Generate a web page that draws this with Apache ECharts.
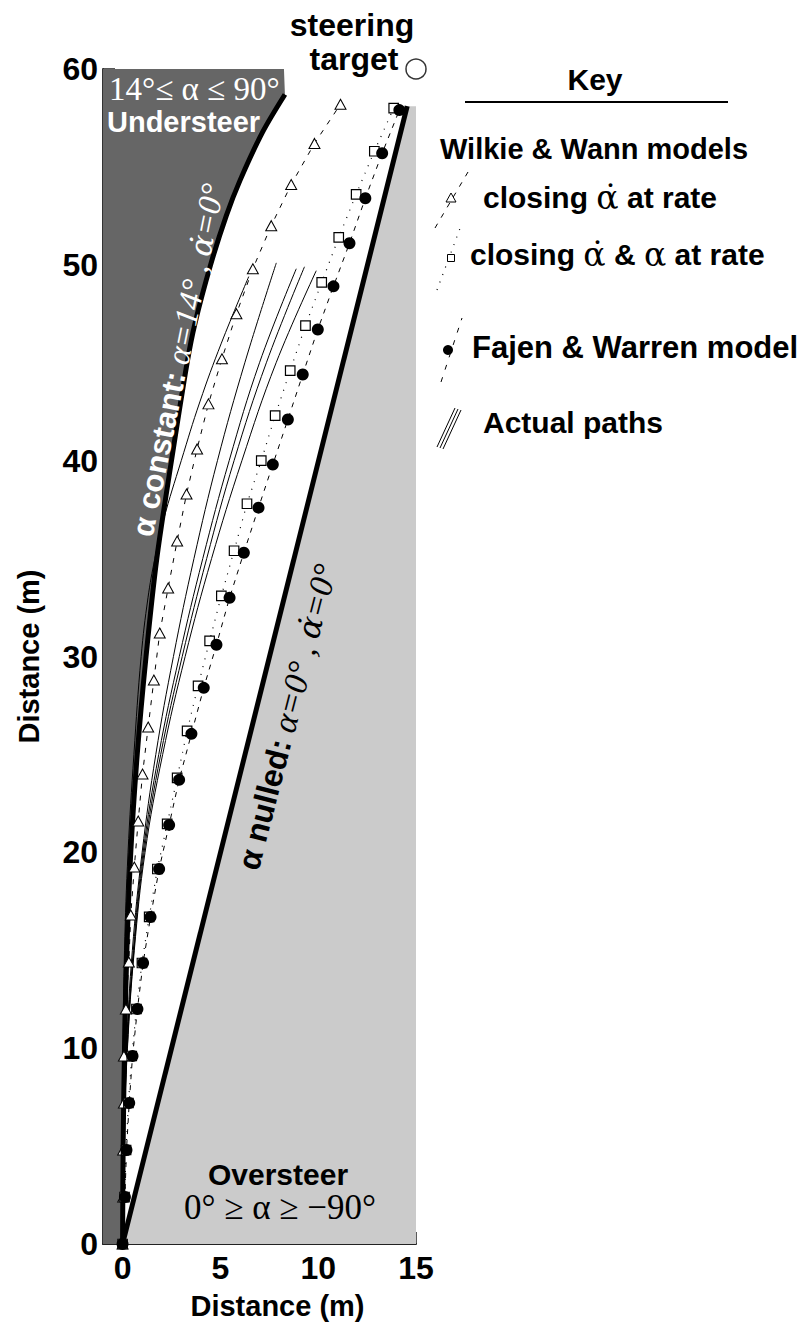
<!DOCTYPE html>
<html>
<head>
<meta charset="utf-8">
<script src="https://cdn.jsdelivr.net/npm/echarts@6.0.0/dist/echarts.min.js"></script>
<style>html,body{margin:0;padding:0;background:#fff}#c{width:806px;height:1333px}</style>
</head>
<body>
<div id="c"></div>
<script>
// ---- data (metres) ----
const xTicks = [0, 5, 10, 15];
const yTicks = [0, 10, 20, 30, 40, 50, 60];

// alpha constant boundary (thick curve)
const constY = [0, 5, 10, 15, 20, 25, 30, 35, 40, 45, 47, 50, 52.5, 54.3, 56.8, 58.7];
const constX = [0, 0.03, 0.1, 0.22, 0.42, 0.75, 1.2, 1.75, 2.5, 3.3, 3.7, 4.5, 5.3, 6.0, 7.17, 8.3];

// alpha nulled boundary (straight thick line)
const nullY = [0, 58.1];
const nullX = [0, 14.55];

// Wilkie & Wann: closing alpha-dot at rate (triangles)
const triY = [0, 2.4, 4.8, 7.2, 9.6, 12.0, 14.4, 16.8, 19.25, 21.6, 24.0, 26.4, 28.8, 31.2, 33.5, 35.9, 38.3, 40.6, 42.9, 45.2, 47.5, 49.8, 52.0, 54.1, 56.2, 58.2];
const triX = [0, 0.03, 0.03, 0.07, 0.07, 0.17, 0.32, 0.42, 0.6, 0.8, 1.02, 1.31, 1.6, 1.9, 2.33, 2.79, 3.27, 3.81, 4.39, 5.08, 5.82, 6.66, 7.6, 8.62, 9.81, 11.14];

// Wilkie & Wann: closing alpha-dot & alpha at rate (squares)
const sqY = [0, 2.4, 4.8, 7.2, 9.6, 12.0, 14.35, 16.7, 19.15, 21.45, 23.8, 26.2, 28.5, 30.8, 33.1, 35.4, 37.8, 40.0, 42.3, 44.6, 46.9, 49.1, 51.4, 53.6, 55.8, 58.0];
const sqX = [0, 0.1, 0.18, 0.3, 0.47, 0.71, 0.99, 1.36, 1.78, 2.28, 2.79, 3.3, 3.86, 4.45, 5.05, 5.7, 6.36, 7.09, 7.8, 8.57, 9.35, 10.18, 11.05, 11.94, 12.87, 13.86];

// Fajen & Warren model (filled circles)
const fwY = [0, 2.4, 4.8, 7.2, 9.6, 12.0, 14.35, 16.7, 19.15, 21.4, 23.7, 26.05, 28.4, 30.6, 33.0, 35.3, 37.6, 39.8, 42.1, 44.4, 46.7, 48.9, 51.1, 53.4, 55.7, 57.9];
const fwX = [0, 0.12, 0.2, 0.34, 0.51, 0.76, 1.05, 1.43, 1.87, 2.38, 2.89, 3.52, 4.15, 4.8, 5.47, 6.2, 6.95, 7.68, 8.45, 9.21, 9.98, 10.78, 11.6, 12.41, 13.27, 14.15];

// Actual paths
const path1Y = [0, 5, 10, 15, 20, 25, 30, 33, 35, 37, 40, 43, 46, 49.4];
const path1X = [0, 0, 0.02, 0.1, 0.28, 0.58, 0.95, 1.3, 1.65, 2.1, 3.0, 3.95, 5.05, 6.45];
const path2Y = [0, 5, 10, 15, 20, 25, 30, 35, 40, 45, 50.1];
const path2X = [0, 0.05, 0.2, 0.5, 1.0, 1.7, 2.6, 3.65, 4.85, 6.25, 7.86];
const path3Y = [0, 5, 10, 15, 20, 25, 30, 35, 40, 45, 49.8];
const path3X = [0, 0.05, 0.22, 0.55, 1.05, 1.85, 2.9, 4.1, 5.45, 7.0, 8.88];
const path4Y = [0, 5, 10, 15, 20, 25, 30, 35, 40, 45, 49.9];
const path4X = [0, 0.05, 0.24, 0.58, 1.1, 1.95, 3.05, 4.3, 5.7, 7.35, 9.3];
const path5Y = [0, 5, 10, 15, 20, 25, 30, 35, 40, 45, 49.7];
const path5X = [0, 0.06, 0.25, 0.6, 1.15, 2.05, 3.2, 4.55, 6.1, 7.85, 9.9];

// steering target
const targetXY = [15, 60];

// axis extents
const xMin = -1, xMax = 15, yMin = 0, yMax = 60;

// ---- build ----
const zip = (xs, ys) => xs.map((x, i) => [x, ys[i]]);
const constPts = zip(constX, constY);
const nullPts = zip(nullX, nullY);
const darkPoly = [[xMin, 0]].concat(constPts, [[constX[constX.length - 1] - 0.05, yMax], [xMin, yMax]]);
const lightPoly = nullPts.concat([[xMax, nullY[1]], [xMax, 0]]);
const paths = [[path1X, path1Y], [path2X, path2Y], [path3X, path3Y], [path4X, path4Y], [path5X, path5Y]];

function polySeries(poly, color, z) {
  return {
    type: 'custom', silent: true, z: z, clip: true,
    data: [0],
    renderItem: (params, api) => ({
      type: 'polygon',
      shape: { points: poly.map(p => api.coord(p)) },
      style: { fill: color }
    })
  };
}

const SANS = 'Liberation Sans, Arial, Helvetica, sans-serif';
const SERIF = 'Liberation Serif, Times New Roman, serif';
const DJS = 'DejaVu Serif, serif';

const series = [
  polySeries(lightPoly, '#cbcbcb', 1),
  polySeries(darkPoly, '#666666', 2),
  { type: 'line', data: nullPts, symbol: 'none', z: 5, lineStyle: { color: '#000', width: 5 } },
  { type: 'line', data: constPts, symbol: 'none', smooth: 0.3, z: 5, lineStyle: { color: '#000', width: 5 } }
];
paths.forEach(p => series.push({
  type: 'line', data: zip(p[0], p[1]), symbol: 'none', smooth: 0.4, z: 6,
  lineStyle: { color: '#000', width: 1 }
}));
series.push(
  { type: 'line', data: zip(triX, triY), symbol: 'triangle', symbolSize: [11, 10], z: 8,
    lineStyle: { color: '#000', width: 1, type: [5, 7] },
    itemStyle: { color: '#fff', borderColor: '#000', borderWidth: 1 } },
  { type: 'line', data: zip(sqX, sqY), symbol: 'rect', symbolSize: 9.5, z: 8,
    lineStyle: { color: '#000', width: 1.2, type: [1, 7] },
    itemStyle: { color: '#fff', borderColor: '#000', borderWidth: 1.2 } },
  { type: 'line', data: zip(fwX, fwY), symbol: 'circle', symbolSize: 12, z: 9,
    lineStyle: { color: '#000', width: 1, type: [5, 6] },
    itemStyle: { color: '#000', borderColor: '#000', borderWidth: 0 } },
  { type: 'scatter', data: [targetXY], symbol: 'circle', symbolSize: 20, clip: false, z: 9,
    itemStyle: { color: '#fff', borderColor: '#000', borderWidth: 1.5 } }
);

const deg = Math.PI / 180;
const keyRich = {
  t: { fontFamily: SANS, fontWeight: 'bold', fontSize: 30, fill: '#000' },
  g: { fontFamily: DJS, fontSize: 33, fill: '#000' }
};
const graphic = [
  // region labels
  { type: 'text', x: 109, y: 89, z: 20, style: { text: '14°≤ α ≤ 90°', font: '33px ' + SERIF, fill: '#fff', align: 'left', verticalAlign: 'middle' } },
  { type: 'text', x: 107, y: 122, z: 20, style: { text: 'Understeer', font: 'bold 29px ' + SANS, fill: '#fff', align: 'left', verticalAlign: 'middle' } },
  { type: 'text', x: 278, y: 1174, z: 20, style: { text: 'Oversteer', font: 'bold 30px ' + SANS, fill: '#000', align: 'center', verticalAlign: 'middle' } },
  { type: 'text', x: 280, y: 1207, z: 20, style: { text: '0° ≥ α ≥ −90°', font: '35px ' + SERIF, fill: '#000', align: 'center', verticalAlign: 'middle' } },
  // rotated boundary labels
  { type: 'text', x: 178, y: 360, rotation: 78.5 * deg, z: 20,
    style: { text: '{a|α constant:}{b| α=14° , }{c|α̇}{b|=0°}', align: 'center', verticalAlign: 'middle',
      rich: { a: { fontFamily: SANS, fontWeight: 'bold', fontSize: 31, fill: '#fff' },
              b: { fontFamily: SERIF, fontStyle: 'italic', fontSize: 33, fill: '#fff' },
              c: { fontFamily: DJS, fontStyle: 'italic', fontSize: 31, fill: '#fff' } } } },
  { type: 'text', x: 287, y: 717, rotation: 75.5 * deg, z: 20,
    style: { text: '{a|α nulled:}{b| α=0° , }{c|α̇}{b|=0°}', align: 'center', verticalAlign: 'middle',
      rich: { a: { fontFamily: SANS, fontWeight: 'bold', fontSize: 32, fill: '#000' },
              b: { fontFamily: SERIF, fontStyle: 'italic', fontSize: 34, fill: '#000' },
              c: { fontFamily: DJS, fontStyle: 'italic', fontSize: 32, fill: '#000' } } } },
  // steering target
  { type: 'text', x: 352, y: 25, z: 20, style: { text: 'steering', font: 'bold 32px ' + SANS, fill: '#000', align: 'center', verticalAlign: 'middle' } },
  { type: 'text', x: 354, y: 59, z: 20, style: { text: 'target', font: 'bold 32px ' + SANS, fill: '#000', align: 'center', verticalAlign: 'middle' } },
  // key
  { type: 'text', x: 595, y: 79, z: 20, style: { text: 'Key', font: 'bold 30px ' + SANS, fill: '#000', align: 'center', verticalAlign: 'middle' } },
  { type: 'line', z: 20, shape: { x1: 465, y1: 102, x2: 728, y2: 102 }, style: { stroke: '#000', lineWidth: 2 } },
  { type: 'text', x: 440, y: 149, z: 20, style: { text: 'Wilkie & Wann models', font: 'bold 29px ' + SANS, fill: '#000', align: 'left', verticalAlign: 'middle' } },
  { type: 'line', z: 20, shape: { x1: 435, y1: 228, x2: 468, y2: 172 }, style: { stroke: '#000', lineWidth: 1, lineDash: [5, 7] } },
  { type: 'polygon', z: 21, shape: { points: [[451, 193], [446, 202], [456, 202]] }, style: { fill: '#fff', stroke: '#000', lineWidth: 1 } },
  { type: 'text', x: 483, y: 197, z: 20, style: { text: '{t|closing }{g|α̇}{t| at rate}', rich: keyRich, align: 'left', verticalAlign: 'middle' } },
  { type: 'line', z: 20, shape: { x1: 437, y1: 290, x2: 462, y2: 223 }, style: { stroke: '#000', lineWidth: 1.2, lineDash: [1, 7] } },
  { type: 'rect', z: 21, shape: { x: 447.5, y: 254.5, width: 7, height: 7 }, style: { fill: '#fff', stroke: '#000', lineWidth: 1 } },
  { type: 'text', x: 470, y: 254, z: 20, style: { text: '{t|closing }{g|α̇}{t| & }{g|α}{t| at rate}', rich: keyRich, align: 'left', verticalAlign: 'middle' } },
  { type: 'line', z: 20, shape: { x1: 441, y1: 382, x2: 462, y2: 318 }, style: { stroke: '#000', lineWidth: 1, lineDash: [5, 8] } },
  { type: 'circle', z: 21, shape: { cx: 448, cy: 350, r: 5 }, style: { fill: '#000' } },
  { type: 'text', x: 472, y: 347, z: 20, style: { text: 'Fajen & Warren model', font: 'bold 31px ' + SANS, fill: '#000', align: 'left', verticalAlign: 'middle' } },
  { type: 'line', z: 20, shape: { x1: 437, y1: 447, x2: 455, y2: 408 }, style: { stroke: '#000', lineWidth: 1 } },
  { type: 'line', z: 20, shape: { x1: 440, y1: 448, x2: 458, y2: 409 }, style: { stroke: '#000', lineWidth: 1 } },
  { type: 'line', z: 20, shape: { x1: 443, y1: 449, x2: 461, y2: 410 }, style: { stroke: '#000', lineWidth: 1 } },
  { type: 'text', x: 483, y: 422, z: 20, style: { text: 'Actual paths', font: 'bold 30px ' + SANS, fill: '#000', align: 'left', verticalAlign: 'middle' } }
];

const chart = echarts.init(document.getElementById('c'), null, { renderer: 'svg' });
chart.setOption({
  animation: false,
  backgroundColor: '#fff',
  grid: { left: 103, right: 390, top: 69, bottom: 89, containLabel: false },
  xAxis: {
    type: 'value', min: xMin, max: xMax,
    name: 'Distance (m)', nameLocation: 'middle', nameGap: 47,
    nameTextStyle: { fontFamily: SANS, fontWeight: 'bold', fontSize: 29, color: '#000', padding: [0, 0, 0, 36] },
    axisLine: { show: true, onZero: false, lineStyle: { color: '#222', width: 2 } },
    axisTick: { show: true, inside: true, length: 12, customValues: xTicks, lineStyle: { color: '#222', width: 1.5 } },
    axisLabel: { customValues: xTicks, fontFamily: SANS, fontWeight: 'bold', fontSize: 32, color: '#000', margin: 8 },
    splitLine: { show: false }
  },
  yAxis: {
    type: 'value', min: yMin, max: yMax, interval: 10,
    name: 'Distance (m)', nameLocation: 'middle', nameGap: 60,
    nameTextStyle: { fontFamily: SANS, fontWeight: 'bold', fontSize: 29, color: '#000' },
    axisLine: { show: true, onZero: false, lineStyle: { color: '#333', width: 2 } },
    axisTick: { show: true, inside: true, length: 12, customValues: yTicks, lineStyle: { color: '#222', width: 1.5 } },
    axisLabel: { customValues: yTicks, fontFamily: SANS, fontWeight: 'bold', fontSize: 32, color: '#000', margin: 5 },
    splitLine: { show: false }
  },
  series: series,
  graphic: graphic
});
</script>
</body>
</html>
